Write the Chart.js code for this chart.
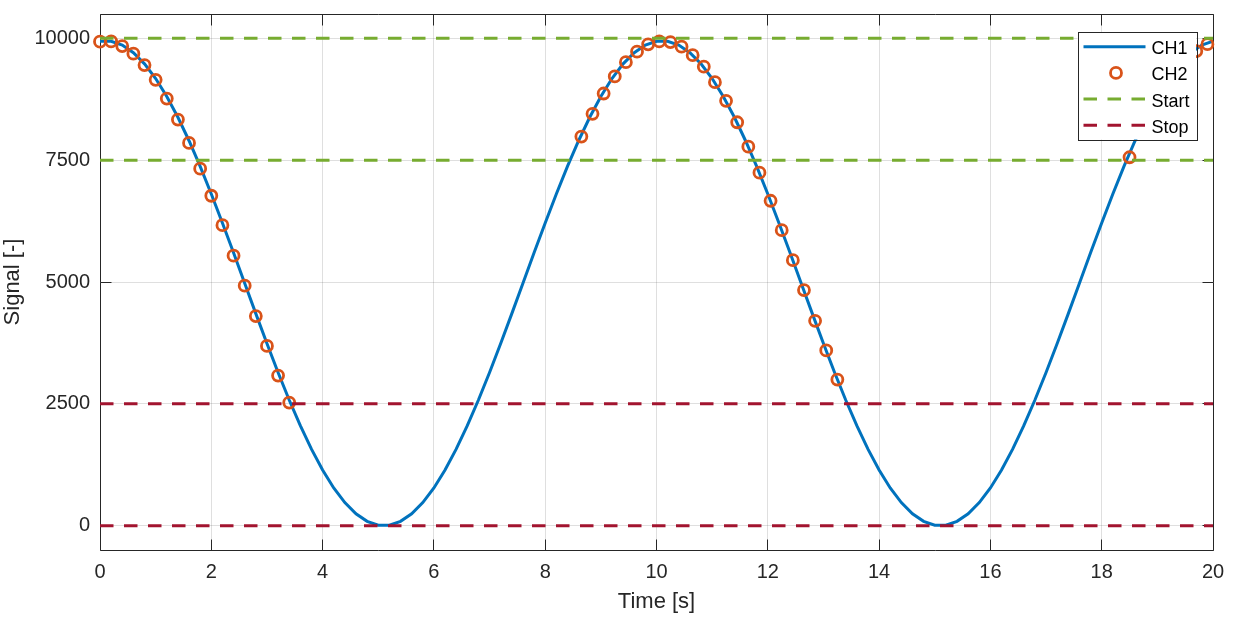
<!DOCTYPE html>
<html>
<head>
<meta charset="utf-8">
<script src="https://cdn.jsdelivr.net/npm/chart.js@4.4.1/dist/chart.umd.min.js"></script>
<style>
html,body{margin:0;padding:0;background:#ffffff;}
#wrap{width:1250px;height:625px;position:relative;}
</style>
</head>
<body>
<div id="wrap"><canvas id="c" width="1250" height="625"></canvas></div>
<script>
// ---------- data ----------
const timeCH1 = [0,0.2,0.4,0.6,0.8,1,1.2,1.4,1.6,1.8,2,2.2,2.4,2.6,2.8,3,3.2,3.4,3.6,3.8,
  4,4.2,4.4,4.6,4.8,5,5.2,5.4,5.6,5.8,6,6.2,6.4,6.6,6.8,7,7.2,7.4,7.6,7.8,
  8,8.2,8.4,8.6,8.8,9,9.2,9.4,9.6,9.8,10,10.2,10.4,10.6,10.8,11,11.2,11.4,11.6,11.8,
  12,12.2,12.4,12.6,12.8,13,13.2,13.4,13.6,13.8,14,14.2,14.4,14.6,14.8,15,15.2,15.4,15.6,15.8,
  16,16.2,16.4,16.6,16.8,17,17.2,17.4,17.6,17.8,18,18.2,18.4,18.6,18.8,19,19.2,19.4,19.6,19.8,20];
const ch1Values = [9940,9940,9862,9707,9477,9175,8808,8381,7899,7372,6806,6212,5599,4975,4351,3738,3144,2578,2051,1569,
  1142,774,473,243,88,10,10,88,243,473,774,1142,1569,2051,2578,3144,3738,4351,4975,5599,
  6212,6806,7372,7899,8381,8808,9175,9477,9707,9862,9940,9940,9862,9707,9477,9175,8808,8381,7899,7372,
  6806,6212,5599,4975,4351,3738,3144,2578,2051,1569,1142,774,473,243,88,10,10,88,243,473,
  774,1142,1569,2051,2578,3144,3738,4351,4975,5599,6212,6806,7372,7899,8381,8808,9175,9477,9707,9862,9940];

const ch2Time = [0,0.2,0.4,0.6,0.8,1,1.2,1.4,1.6,1.8,2,2.2,2.4,2.6,2.8,3,3.2,3.4,
  8.65,8.85,9.05,9.25,9.45,9.65,9.85,10.05,10.25,10.45,10.65,10.85,11.05,11.25,11.45,11.65,11.85,12.05,12.25,12.45,12.65,12.85,13.05,13.25,
  18.5,18.7,18.9,19.1,19.3,19.5,19.7,19.9];
const ch2Values = [9932,9938,9842,9685,9451,9150,8765,8333,7854,7325,6770,6167,5541,4924,4300,3689,3080,2525,
  7984,8451,8868,9218,9512,9726,9877,9938,9924,9829,9656,9418,9101,8718,8278,7778,7243,6667,6064,5447,4835,4204,3595,2998,
  7560,8150,8600,8990,9320,9590,9740,9880];

const startLevels = [10000, 7500];
const stopLevels = [2500, 0];

const seriesNames = ['CH1', 'CH2', 'Start', 'Stop'];
const xTicks = [0, 2, 4, 6, 8, 10, 12, 14, 16, 18, 20];
const yTicks = [0, 2500, 5000, 7500, 10000];
const xRange = [0, 20];
const yRange = [-500, 10500];
const xTitle = 'Time [s]';
const yTitle = 'Signal [-]';

// ---------- build library data ----------
function levelLines(levels) {
  const pts = [];
  levels.forEach((lv, i) => {
    if (i > 0) pts.push({x: xRange[1], y: null});
    pts.push({x: xRange[0], y: lv});
    pts.push({x: xRange[1], y: lv});
  });
  return pts;
}
const ch1Data = timeCH1.map((t, i) => ({x: t, y: ch1Values[i]}));
const ch2Data = ch2Time.map((t, i) => ({x: t, y: ch2Values[i]}));

const TEXT = '#262626';
const FONT = '"Liberation Sans", Arial, Helvetica, sans-serif';
Chart.defaults.font.family = FONT;
Chart.defaults.color = TEXT;

function alignPx(p) { return Math.round(p - 0.5) + 0.5; }

const framePlugin = {
  id: 'frame',
  beforeDatasetsDraw(chart) {
    const {ctx, chartArea: a, scales} = chart;
    const tl = 11;
    ctx.save();
    ctx.strokeStyle = TEXT;
    ctx.lineWidth = 1;
    const L = alignPx(a.left), R = alignPx(a.right), T = alignPx(a.top), B = alignPx(a.bottom);
    ctx.beginPath();
    ctx.rect(L, T, R - L, B - T);
    scales.x.ticks.forEach(tk => {
      const px = alignPx(scales.x.getPixelForValue(tk.value));
      ctx.moveTo(px, B); ctx.lineTo(px, B - tl);
      ctx.moveTo(px, T); ctx.lineTo(px, T + tl);
    });
    scales.y.ticks.forEach(tk => {
      const py = alignPx(scales.y.getPixelForValue(tk.value));
      ctx.moveTo(L, py); ctx.lineTo(L + tl, py);
      ctx.moveTo(R, py); ctx.lineTo(R - tl, py);
    });
    ctx.stroke();
    ctx.restore();
  }
};

const legendPlugin = {
  id: 'boxLegend',
  afterDraw(chart) {
    const {ctx, chartArea: a} = chart;
    const right = a.right - 17, top = a.top + 18;
    const w = 118.5, h = 107.5;
    const left = right - w;
    ctx.save();
    ctx.fillStyle = '#ffffff';
    ctx.fillRect(left, top, w, h);
    ctx.strokeStyle = TEXT;
    ctx.lineWidth = 1;
    ctx.strokeRect(Math.round(left) + 0.5, Math.round(top) + 0.5, Math.round(w), Math.round(h));
    const x0 = left + 6, x1 = left + 68, tx = left + 74;
    chart.data.datasets.forEach((ds, i) => {
      const y = top + 14.7 + i * 26.2;
      if (ds.showLine === false) {
        ctx.beginPath();
        ctx.arc((x0 + x1) / 2 + 1.5, y, ds.pointRadius, 0, Math.PI * 2);
        ctx.strokeStyle = ds.pointBorderColor;
        ctx.lineWidth = ds.pointBorderWidth;
        ctx.stroke();
      } else {
        ctx.beginPath();
        ctx.setLineDash(ds.borderDash || []);
        ctx.strokeStyle = ds.borderColor;
        ctx.lineWidth = ds.borderWidth;
        ctx.moveTo(x0, y); ctx.lineTo(x1, y);
        ctx.stroke();
        ctx.setLineDash([]);
      }
      ctx.fillStyle = '#000000';
      ctx.font = '18px ' + FONT;
      ctx.textBaseline = 'alphabetic';
      ctx.textAlign = 'left';
      ctx.fillText(ds.label, tx, y + 7.5);
    });
    ctx.restore();
  }
};

new Chart(document.getElementById('c'), {
  type: 'line',
  data: {
    datasets: [
      {label: seriesNames[0], data: ch1Data, borderColor: '#0072BD', borderWidth: 3,
       pointRadius: 0, tension: 0, order: 3},
      {label: seriesNames[1], data: ch2Data, showLine: false, pointStyle: 'circle',
       pointRadius: 5.5, pointBorderWidth: 2.8, pointBorderColor: '#D95319',
       pointBackgroundColor: 'rgba(0,0,0,0)', borderColor: '#D95319', clip: false, order: 2},
      {label: seriesNames[2], data: levelLines(startLevels), borderColor: '#77AC30', borderWidth: 3,
       borderDash: [13.5, 10.5], pointRadius: 0, spanGaps: false, order: 1},
      {label: seriesNames[3], data: levelLines(stopLevels), borderColor: '#A2142F', borderWidth: 3,
       borderDash: [13.5, 10.5], pointRadius: 0, spanGaps: false, order: 0}
    ]
  },
  options: {
    responsive: false,
    animation: false,
    devicePixelRatio: 1,
    layout: {padding: {left: 0, top: 14, right: 37, bottom: 0}},
    plugins: {legend: {display: false}, tooltip: {enabled: false}},
    scales: {
      x: {
        type: 'linear', min: xRange[0], max: xRange[1],
        afterBuildTicks: s => { s.ticks = xTicks.map(v => ({value: v})); },
        afterFit: s => { s.height = 75; s.paddingLeft = 0; s.paddingRight = 0; },
        grid: {color: 'rgba(38,38,38,0.15)', lineWidth: 1, drawTicks: false},
        border: {display: false},
        ticks: {padding: 10, maxRotation: 0, autoSkip: false, color: TEXT, font: {size: 20}},
        title: {display: true, text: xTitle, color: TEXT, font: {size: 22}, padding: {top: 0, bottom: 10}}
      },
      y: {
        type: 'linear', min: yRange[0], max: yRange[1],
        afterBuildTicks: s => { s.ticks = yTicks.map(v => ({value: v})); },
        afterFit: s => { s.width = 100; s.paddingTop = 0; s.paddingBottom = 0; },
        grid: {color: 'rgba(38,38,38,0.15)', lineWidth: 1, drawTicks: false},
        border: {display: false},
        ticks: {padding: 10, autoSkip: false, color: TEXT, font: {size: 20},
                callback: v => String(v)},
        title: {display: true, text: yTitle, color: TEXT, font: {size: 22}, padding: {top: 0, bottom: 0}}
      }
    }
  },
  plugins: [framePlugin, legendPlugin]
});
</script>
</body>
</html>
